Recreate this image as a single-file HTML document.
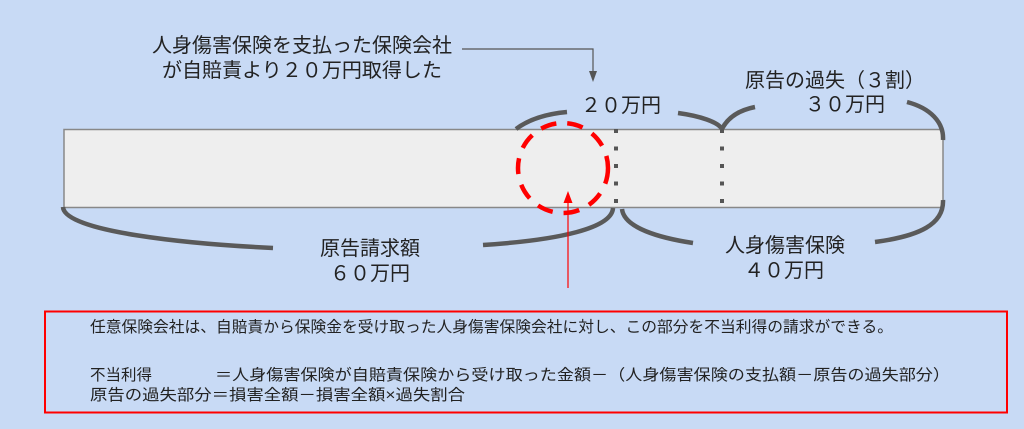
<!DOCTYPE html>
<html><head><meta charset="utf-8"><style>
html,body{margin:0;padding:0;background:#c8daf5;}
svg{display:block;}
text{font-family:"Liberation Sans","Noto Sans CJK JP",sans-serif;fill:#222;}
</style></head><body>
<svg width="1024" height="429" viewBox="0 0 1024 429" xmlns="http://www.w3.org/2000/svg">
<rect width="1024" height="429" fill="#c8daf5"/>
<rect x="64" y="129.5" width="879" height="78" fill="#eeeeee" stroke="#888" stroke-width="1.5"/>
<line x1="616" y1="129" x2="616" y2="210" stroke="#555" stroke-width="4" stroke-dasharray="4,13.5"/>
<line x1="722" y1="129" x2="722" y2="210" stroke="#555" stroke-width="4" stroke-dasharray="4,13.5"/>
<g fill="none" stroke="#5a5a5a" stroke-width="4.5">
<path d="M63,207 C64,232 190,244 273,248"/>
<path d="M483,245 C560,240 612,228 613,208"/>
<path d="M622,209 C624,228 660,238 693,243"/>
<path d="M875,242 C920,236 944,224 943,200"/>
<path d="M516,129 C528,120 545,114 567,112"/>
<path d="M678,113 C700,116 718,122 722,129"/>
<path d="M722,129 C728,117 740,110 755,107"/>
<path d="M907,102 C930,108 944,122 943,140"/>
</g>
<circle cx="563" cy="168" r="45" fill="none" stroke="#ff0000" stroke-width="4.5" stroke-dasharray="16,11"/>
<line x1="568" y1="288" x2="568" y2="200" stroke="#ff0000" stroke-width="1.2"/>
<polygon points="568,191 563.5,203 572.5,203" fill="#ff0000"/>
<polyline points="462,49 593,49 593,72" fill="none" stroke="#555" stroke-width="1.2"/>
<polygon points="593,82 589,71 597,71" fill="#555"/>
<text x="152" y="52" font-size="20" textLength="300" lengthAdjust="spacingAndGlyphs">人身傷害保険を支払った保険会社</text>
<text x="162" y="77" font-size="20" textLength="280" lengthAdjust="spacingAndGlyphs">が自賠責より２０万円取得した</text>
<text x="621" y="112" font-size="20" text-anchor="middle">２０万円</text>
<text x="835" y="87" font-size="20" text-anchor="middle">原告の過失（３割）</text>
<text x="845" y="111" font-size="20" text-anchor="middle">３０万円</text>
<text x="370" y="255" font-size="20" text-anchor="middle">原告請求額</text>
<text x="370" y="280" font-size="20" text-anchor="middle">６０万円</text>
<text x="785" y="252" font-size="20" text-anchor="middle">人身傷害保険</text>
<text x="784" y="277" font-size="20" text-anchor="middle">４０万円</text>
<rect x="45" y="311.5" width="962" height="101" fill="none" stroke="#ff0000" stroke-width="2"/>
<text x="90" y="332" font-size="15.5" textLength="803" lengthAdjust="spacingAndGlyphs">任意保険会社は、自賠責から保険金を受け取った人身傷害保険会社に対し、この部分を不当利得の請求ができる。</text>
<text x="90" y="380" font-size="15.5">不当利得</text>
<text x="215" y="380" font-size="15.5" textLength="735" lengthAdjust="spacingAndGlyphs">＝人身傷害保険が自賠責保険から受け取った金額－（人身傷害保険の支払額－原告の過失部分）</text>
<text x="90" y="400" font-size="15.5" textLength="375" lengthAdjust="spacingAndGlyphs">原告の過失部分＝損害全額－損害全額×過失割合</text>
</svg>
</body></html>
